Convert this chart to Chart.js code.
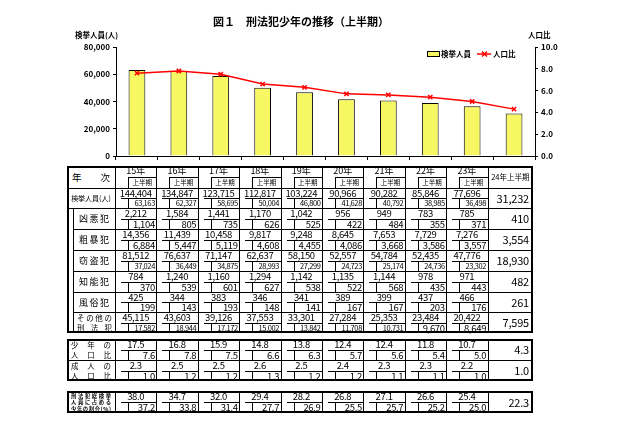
<!DOCTYPE html>
<html><head><meta charset="utf-8">
<script src="https://cdn.jsdelivr.net/npm/chart.js@4.4.1/dist/chart.umd.min.js"></script>
<style>
html,body{margin:0;padding:0;background:#fff;}
#wrap{position:relative;width:640px;height:426px;overflow:hidden;font-family:"Noto Sans CJK JP",sans-serif;color:#000;}
#c{position:absolute;left:0;top:0;}
.t{position:absolute;white-space:nowrap;color:#000;overflow:visible;}
.s{position:absolute;display:flex;justify-content:space-between;align-items:center;white-space:nowrap;color:#000;}
.l{position:absolute;background:#000;}
</style></head>
<body><div id="wrap"><canvas id="c" width="640" height="165"></canvas></div>
<script>
// ---------- data ----------
const chartTitle = '図１　刑法犯少年の推移（上半期）';
const leftAxisTitle = '検挙人員(人)';
const rightAxisTitle = '人口比';
const barSeriesName = '検挙人員';
const lineSeriesName = '人口比';
const chartLabels = ['15年','16年','17年','18年','19年','20年','21年','22年','23年','24年上半期'];
const arrestsHalf = [63163,62327,58695,50004,46800,41628,40792,38985,36498,31232];
const youthRatioHalf = [7.6,7.8,7.5,6.6,6.3,5.7,5.6,5.4,5.0,4.3];
const leftTicks = [0,20000,40000,60000,80000];
const rightTicks = [0,2,4,6,8,10];

const tableYears = ['15年','16年','17年','18年','19年','20年','21年','22年','23年'];
const halfLabel = '上半期';
const lastColLabel = '24年上半期';
const arrestsFull = [144404,134847,123715,112817,103224,90966,90282,85846,77696];
const violentFull = [2212,1584,1441,1170,1042,956,949,783,785];
const violentHalf = [1104,805,735,626,525,422,484,355,371,410];
const assaultFull = [14356,11439,10458,9817,9248,8645,7653,7729,7276];
const assaultHalf = [6884,5447,5119,4608,4455,4086,3668,3586,3557,3554];
const theftFull = [81512,76637,71147,62637,58150,52557,54784,52435,47776];
const theftHalf = [37024,36449,34875,28993,27299,24723,25174,24736,23302,18930];
const fraudFull = [784,1240,1160,1294,1142,1135,1144,978,971];
const fraudHalf = [370,539,601,627,538,522,568,435,443,482];
const moralFull = [425,344,383,346,341,389,399,437,466];
const moralHalf = [199,143,193,148,141,167,167,203,176,261];
const otherFull = [45115,43603,39126,37553,33301,27284,25353,23484,20422];
const otherHalf = [17582,18944,17172,15002,13842,11708,10731,9670,8649,7595];
const youthRatioFull = [17.5,16.8,15.9,14.8,13.8,12.4,12.4,11.8,10.7];
const adultRatioFull = [2.3,2.5,2.5,2.6,2.5,2.4,2.3,2.3,2.2];
const adultRatioHalf = [1.0,1.2,1.2,1.3,1.2,1.2,1.1,1.1,1.0,1.0];
const youthShareFull = [38.0,34.7,32.0,29.4,28.2,26.8,27.1,26.6,25.4];
const youthShareHalf = [37.2,33.8,31.4,27.7,26.9,25.5,25.7,25.2,25.0,22.3];

// ---------- chart ----------
Chart.defaults.font.family = '"Noto Sans CJK JP", sans-serif';
Chart.defaults.color = '#000';
const BAR_COLOR = '#f7f764';
const FONT = '"Noto Sans CJK JP", sans-serif';

const deco = {
  id: 'deco',
  afterDraw(chart) {
    const ctx = chart.ctx;
    ctx.save();
    ctx.fillStyle = '#000';
    ctx.textBaseline = 'middle';
    ctx.font = 'bold 11px ' + FONT;
    ctx.textAlign = 'center';
    ctx.fillText(chartTitle, 301, 22);
    ctx.font = 'bold 7.5px ' + FONT;
    ctx.textAlign = 'left';
    ctx.fillText(leftAxisTitle, 75, 35);
    ctx.fillText(rightAxisTitle, 528, 35);
    // legend
    const ly = 54;
    ctx.fillStyle = BAR_COLOR;
    ctx.fillRect(427.5, ly - 2.5, 12, 5);
    ctx.strokeStyle = '#000'; ctx.lineWidth = 1;
    ctx.strokeRect(427.5, ly - 2.5, 12, 5);
    ctx.fillStyle = '#000';
    ctx.fillText(barSeriesName, 441, ly);
    ctx.strokeStyle = '#ff0000'; ctx.lineWidth = 1.5;
    ctx.beginPath(); ctx.moveTo(477, ly); ctx.lineTo(491, ly); ctx.stroke();
    ctx.beginPath(); ctx.moveTo(482, ly - 2.5); ctx.lineTo(487, ly + 2.5); ctx.moveTo(487, ly - 2.5); ctx.lineTo(482, ly + 2.5); ctx.stroke();
    ctx.fillStyle = '#000';
    ctx.fillText(lineSeriesName, 493, ly);
    ctx.restore();
  }
};

new Chart(document.getElementById('c'), {
  data: {
    labels: chartLabels,
    datasets: [
      { type: 'line', label: lineSeriesName, data: youthRatioHalf, yAxisID: 'y1',
        borderColor: '#ff0000', borderWidth: 1.5, tension: 0,
        pointStyle: 'crossRot', pointRadius: 3, pointBorderColor: '#ff0000', pointBorderWidth: 1.5,
        pointBackgroundColor: '#ff0000', order: 0 },
      { type: 'bar', label: barSeriesName, data: arrestsHalf, yAxisID: 'y',
        backgroundColor: BAR_COLOR, borderColor: '#000', borderWidth: 1,
        categoryPercentage: 1, barPercentage: 0.4, order: 1 }
    ]
  },
  options: {
    responsive: false, animation: false,
    layout: { padding: { top: 47, left: 0, right: 0, bottom: 0 } },
    plugins: { legend: { display: false }, tooltip: { enabled: false } },
    scales: {
      x: {
        offset: true,
        grid: { drawOnChartArea: false, drawTicks: true, tickLength: 4, color: '#000', offset: true },
        border: { color: '#000', width: 1 },
        ticks: { display: false },
        afterFit: s => { s.height = 9; }
      },
      y: {
        position: 'left', min: 0, max: 80000,
        afterBuildTicks: s => { s.ticks = leftTicks.map(v => ({ value: v })); },
        ticks: { font: { size: 8, weight: 'bold' }, color: '#000', padding: 3,
                 callback: v => v.toLocaleString('en-US') },
        grid: { drawOnChartArea: false, tickLength: 3, color: '#000' },
        border: { color: '#000', width: 1 },
        afterFit: s => { s.width = 116; }
      },
      y1: {
        position: 'right', min: 0, max: 10,
        afterBuildTicks: s => { s.ticks = rightTicks.map(v => ({ value: v })); },
        ticks: { font: { size: 8, weight: 'bold' }, color: '#000', padding: 3,
                 callback: v => Number(v).toFixed(1) },
        grid: { drawOnChartArea: false, tickLength: 3, color: '#000' },
        border: { color: '#000', width: 1 },
        afterFit: s => { s.width = 640 - 535; }
      }
    }
  },
  plugins: [deco]
});

// ---------- table ----------
const W = document.getElementById('wrap');
function ln(x, y, w, h) {
  const d = document.createElement('div'); d.className = 'l';
  d.style.left = x + 'px'; d.style.top = y + 'px'; d.style.width = w + 'px'; d.style.height = h + 'px';
  W.appendChild(d);
}
function box(x1, y1, x2, y2, t) {
  ln(x1, y1, x2 - x1, t); ln(x1, y2 - t, x2 - x1, t);
  ln(x1, y1, t, y2 - y1); ln(x2 - t, y1, t, y2 - y1);
}
function tx(s, x, y, w, h, align, size, extra) {
  const d = document.createElement('div'); d.className = 't'; d.textContent = s;
  d.style.cssText += `left:${x}px;top:${y}px;width:${w}px;height:${h}px;line-height:${h}px;text-align:${align};font-size:${size}px;` + (extra || '');
  W.appendChild(d);
}
function spread(s, x, y, w, h, size, extra) {
  const d = document.createElement('div'); d.className = 's';
  d.style.cssText += `left:${x}px;top:${y}px;width:${w}px;height:${h}px;font-size:${size}px;` + (extra || '');
  for (const ch of s) { const sp = document.createElement('span'); sp.textContent = ch; d.appendChild(sp); }
  W.appendChild(d);
}
const fmtInt = v => v.toLocaleString('en-US');
const fmtDec = v => v.toFixed(1);

const L = 67, SUBL = 73, C0 = 115, CW = 41.4, CL = C0 + 9 * CW, R = 533;
const colX = i => C0 + i * CW;
const NUMSTYLE = 'letter-spacing:-0.35px;';

function dataRow(y1, y2, full, half, fmt) {
  const mid = Math.round((y1 + y2) / 2);
  for (let i = 0; i < 9; i++) {
    const c = colX(i);
    const top = fmt(full[i]);
    const bot = fmt(half[i]);
    tx(top, c + 1, y1, CW - 2, mid - y1, 'center', 9.5, NUMSTYLE);
    ln(c + 6, mid, CW - 6, 1);
    ln(c + 13, mid, 1, y2 - mid);
    const small = bot.length >= 6;
    tx(bot, c + 13, mid, CW - 13 - 1.5, y2 - mid, 'right', small ? 7.5 : 9.5, small ? 'letter-spacing:-0.4px;' : NUMSTYLE);
  }
  tx(fmt(half[9]), CL, y1, R - CL - 4, y2 - y1, 'right', 11, 'letter-spacing:-0.2px;');
}

// Main block
const mainY = [166, 188, 208, 229, 250, 271, 292, 312, 333];
box(L, mainY[0], R, mainY[8], 2);
for (let i = 0; i <= 9; i++) ln(Math.round(colX(i)), mainY[0], 1, mainY[8] - mainY[0]);
ln(L, mainY[1], R - L, 1);
ln(L, mainY[2], R - L, 1);
for (let r = 3; r < 8; r++) ln(SUBL, mainY[r], R - SUBL, 1);
ln(SUBL, mainY[2], 1, mainY[8] - mainY[2]);

// header row
tx('年', L + 5, mainY[0], 20, mainY[1] - mainY[0], 'left', 9.5);
tx('次', C0 - 25, mainY[0], 20, mainY[1] - mainY[0], 'right', 9.5);
for (let i = 0; i < 9; i++) {
  const c = colX(i), mid = 177;
  tx(tableYears[i], c, mainY[0] - 1, CW, mid - mainY[0], 'center', 9);
  ln(c + 13, mid, CW - 13, 1);
  ln(c + 13, mid, 1, mainY[1] - mid);
  tx(halfLabel, c + 13, mid, CW - 13, mainY[1] - mid, 'center', 6.5);
}
tx(lastColLabel, CL, mainY[0], R - CL, mainY[1] - mainY[0], 'center', 7.5);

// rows
tx('検挙人員(人)', L, mainY[1], C0 - L, mainY[2] - mainY[1], 'center', 7);
dataRow(mainY[1], mainY[2], arrestsFull, arrestsHalf, fmtInt);
const subRows = [
  ['凶悪犯', violentFull, violentHalf],
  ['粗暴犯', assaultFull, assaultHalf],
  ['窃盗犯', theftFull, theftHalf],
  ['知能犯', fraudFull, fraudHalf],
  ['風俗犯', moralFull, moralHalf]
];
subRows.forEach((r, k) => {
  const y1 = mainY[2 + k], y2 = mainY[3 + k];
  spread(r[0], SUBL + 6, y1, C0 - SUBL - 12, y2 - y1, 9);
  dataRow(y1, y2, r[1], r[2], fmtInt);
});
{
  const y1 = mainY[7], y2 = mainY[8], mid = (y1 + y2) / 2;
  spread('その他の', SUBL + 4, y1 + 1, C0 - SUBL - 7, mid - y1 - 1, 7.5);
  spread('刑法犯', SUBL + 4, mid, C0 - SUBL - 7, y2 - mid - 1, 7.5);
  dataRow(y1, y2, otherFull, otherHalf, fmtInt);
}

// Block 2
const b2Y = [339, 360, 381];
box(L, b2Y[0], R, b2Y[2], 2);
for (let i = 0; i <= 9; i++) ln(Math.round(colX(i)), b2Y[0], 1, b2Y[2] - b2Y[0]);
ln(L, b2Y[1], R - L, 1);
[['少年の', '人口比', youthRatioFull, youthRatioHalf], ['成人の', '人口比', adultRatioFull, adultRatioHalf]].forEach((r, k) => {
  const y1 = b2Y[k], y2 = b2Y[k + 1], mid = (y1 + y2) / 2;
  spread(r[0], L + 4, y1 + 1, C0 - L - 8, mid - y1 - 1, 7.5);
  spread(r[1], L + 4, mid, C0 - L - 8, y2 - mid - 1, 7.5);
  dataRow(y1, y2, r[2], r[3], fmtDec);
});

// Block 3
const b3Y = [391, 413];
box(L, b3Y[0], R, b3Y[1], 2);
for (let i = 0; i <= 9; i++) ln(Math.round(colX(i)), b3Y[0], 1, b3Y[1] - b3Y[0]);
{
  const y1 = b3Y[0], lh = 6.3;
  ['刑法犯総検挙', '人員に占める', '少年の割合(%)'].forEach((s, k) => {
    spread(s, L + 4, y1 + 2 + k * lh, C0 - L - 8, lh, 5.3, 'font-weight:bold;');
  });
  dataRow(b3Y[0], b3Y[1], youthShareFull, youthShareHalf, fmtDec);
}
</script>
</body></html>
